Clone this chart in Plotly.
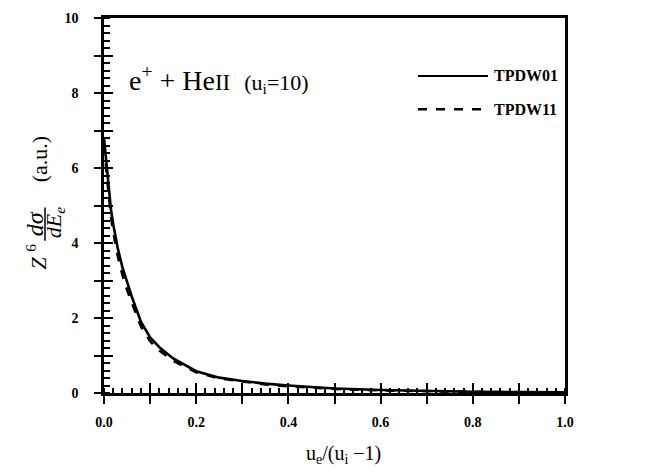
import plotly.graph_objects as go

# ---- data ----
x_vals = [0.0, 0.005, 0.01, 0.015, 0.02, 0.03, 0.04, 0.05, 0.06, 0.08, 0.10,
          0.12, 0.15, 0.20, 0.25, 0.30, 0.35, 0.40, 0.50, 0.60, 0.70, 0.80, 0.90, 1.00]
tpdw01 = [6.8, 6.2, 5.5, 4.9, 4.5, 3.85, 3.35, 2.95, 2.58, 1.90, 1.48,
          1.22, 0.92, 0.58, 0.41, 0.32, 0.25, 0.20, 0.12, 0.08, 0.05, 0.035, 0.025, 0.02]
tpdw11 = [6.6, 6.0, 5.3, 4.7, 4.3, 3.65, 3.15, 2.75, 2.42, 1.78, 1.38,
          1.13, 0.86, 0.55, 0.39, 0.30, 0.23, 0.18, 0.11, 0.07, 0.045, 0.03, 0.02, 0.015]
series_names = ["TPDW01", "TPDW11"]
x_label_vals = [0.0, 0.2, 0.4, 0.6, 0.8, 1.0]
x_label_text = ["0.0", "0.2", "0.4", "0.6", "0.8", "1.0"]
x_major = [0.0, 0.1, 0.2, 0.3, 0.4, 0.5, 0.6, 0.7, 0.8, 0.9, 1.0]
y_label_vals = [0, 2, 4, 6, 8, 10]
y_label_text = ["0", "2", "4", "6", "8", "10"]
y_major = [0, 1, 2, 3, 4, 5, 6, 7, 8, 9, 10]

W, H = 648, 473
L, R, T, B = 104, 83, 11, 80
PW, PH = W - L - R, H - T - B


def px(x):
    return (x - L) / PW


def py(y):
    return (H - B - y) / PH


SERIF = "Liberation Serif"

fig = go.Figure()
fig.add_trace(go.Scatter(x=x_vals, y=tpdw01, mode="lines", name=series_names[0],
                         line=dict(color="black", width=2.6), showlegend=False))
fig.add_trace(go.Scatter(x=x_vals, y=tpdw11, mode="lines", name=series_names[1],
                         line=dict(color="black", width=2.6, dash="dash"), showlegend=False))
# empty traces so the overlay tick axes are drawn
fig.add_trace(go.Scatter(x=[], y=[], xaxis="x2", yaxis="y2", showlegend=False))
fig.add_trace(go.Scatter(x=[], y=[], xaxis="x3", yaxis="y3", showlegend=False))

plain = dict(showgrid=False, zeroline=False, tickcolor="black", tickwidth=2.2)
labfont = dict(family=SERIF, size=14, color="black", weight="bold")

fig.update_layout(
    width=W, height=H,
    margin=dict(l=L, r=R, t=T, b=B, pad=0),
    paper_bgcolor="white", plot_bgcolor="white",
    # main axes: frame, labels, minor inside ticks
    xaxis=dict(range=[0, 1], tickmode="array", tickvals=x_label_vals, ticktext=x_label_text,
               ticks="", showline=True, mirror=True, linecolor="black", linewidth=2.5,
               ticklabelstandoff=14, tickfont=labfont,
               minor=dict(dtick=0.02, ticks="inside", ticklen=5, tickwidth=2, tickcolor="black"),
               **plain),
    yaxis=dict(range=[0, 10], tickmode="array", tickvals=y_label_vals, ticktext=y_label_text,
               ticks="", showline=True, mirror=True, linecolor="black", linewidth=2.5,
               ticklabelstandoff=20, tickfont=labfont,
               minor=dict(dtick=0.2, ticks="inside", ticklen=6, tickwidth=2, tickcolor="black"),
               **plain),
    # major ticks outside
    xaxis2=dict(range=[0, 1], overlaying="x", anchor="y2", tickmode="array", tickvals=x_major,
                ticks="outside", ticklen=10, showticklabels=False, showline=False, **plain),
    yaxis2=dict(range=[0, 10], overlaying="y", anchor="x2", tickmode="array", tickvals=y_major,
                ticks="outside", ticklen=9, showticklabels=False, showline=False, **plain),
    # major ticks inside
    xaxis3=dict(range=[0, 1], overlaying="x", anchor="y3", tickmode="array", tickvals=x_major,
                ticks="inside", ticklen=10, showticklabels=False, showline=False, **plain),
    yaxis3=dict(range=[0, 10], overlaying="y", anchor="x3", tickmode="array", tickvals=y_major,
                ticks="inside", ticklen=9, showticklabels=False, showline=False, **plain),
)

annotations = []
# x-axis title
annotations.append(dict(text="u<sub>e</sub>/(u<sub>i</sub> \u22121)", x=px(343), y=py(456),
                        xref="paper", yref="paper", showarrow=False, xanchor="center", yanchor="middle",
                        font=dict(family=SERIF, size=20, color="black")))
# y-axis title pieces (rotated)
annotations.append(dict(text="<i>Z</i> <sup>6</sup>", x=px(36), y=py(254), xref="paper", yref="paper",
                        showarrow=False, textangle=-90, xanchor="center", yanchor="middle",
                        font=dict(family=SERIF, size=22, color="black")))
annotations.append(dict(text="<i>d\u03c3</i>", x=px(35), y=py(221), xref="paper", yref="paper",
                        showarrow=False, textangle=-90, xanchor="center", yanchor="middle",
                        font=dict(family=SERIF, size=24, color="black")))
annotations.append(dict(text="<i>dE<sub>e</sub></i>", x=px(55), y=py(220), xref="paper", yref="paper",
                        showarrow=False, textangle=-90, xanchor="center", yanchor="middle",
                        font=dict(family=SERIF, size=22, color="black")))
annotations.append(dict(text="(a.u.)", x=px(39), y=py(155), xref="paper", yref="paper",
                        showarrow=False, textangle=-90, xanchor="center", yanchor="middle",
                        font=dict(family=SERIF, size=22, color="black")))
# inner label
annotations.append(dict(text="e<sup>+</sup> + He<span style='font-size:23px'>II</span>"
                             "  <span style='font-size:22px'>(u<sub>i</sub>=10)</span>",
                        x=px(127), y=py(73), xref="paper", yref="paper", showarrow=False,
                        xanchor="left", yanchor="middle",
                        font=dict(family=SERIF, size=28, color="black")))
# legend texts
for name, yy in zip(series_names, [70, 104]):
    annotations.append(dict(text=name, x=px(492), y=py(yy), xref="paper", yref="paper",
                            showarrow=False, xanchor="left", yanchor="middle",
                            font=dict(family=SERIF, size=16, color="black", weight="bold")))
fig.update_layout(annotations=annotations)

shapes = [
    # fraction bar of y title
    dict(type="line", xref="paper", yref="paper", x0=px(45), x1=px(45), y0=py(204), y1=py(238),
         line=dict(color="black", width=1.5)),
    # legend samples
    dict(type="line", xref="paper", yref="paper", x0=px(418), x1=px(488), y0=py(70), y1=py(70),
         line=dict(color="black", width=2)),
    dict(type="line", xref="paper", yref="paper", x0=px(418), x1=px(488), y0=py(104), y1=py(104),
         line=dict(color="black", width=2.5, dash="dash")),
]
fig.update_layout(shapes=shapes)

fig.write_html("out.html")
